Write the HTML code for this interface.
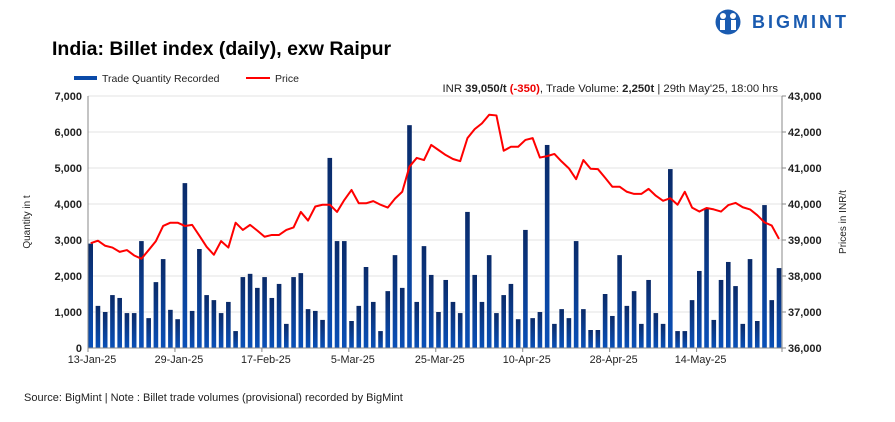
<!DOCTYPE html>
<html><head><meta charset="utf-8"><style>
body{margin:0;background:#fff;width:895px;height:417px;overflow:hidden;font-family:"Liberation Sans",Arial,sans-serif;}
</style></head><body>
<svg id="chart" width="895" height="417" xmlns="http://www.w3.org/2000/svg" font-family="Liberation Sans, Arial, sans-serif">
<defs><linearGradient id="bg" x1="0" y1="0" x2="0" y2="1"><stop offset="0" stop-color="#0a2a68"/><stop offset="1" stop-color="#0a50b8"/></linearGradient></defs>
<g>
<circle cx="728" cy="22" r="12.5" fill="#1a5bb0"/>
<circle cx="723" cy="16" r="3" fill="#fff"/><circle cx="733" cy="16" r="3" fill="#fff"/>
<rect x="720" y="20" width="5" height="10" fill="#fff"/><rect x="731" y="20" width="5" height="10" fill="#fff"/>
<text x="752" y="28" font-size="18" font-weight="bold" fill="#1a5bb0" letter-spacing="3">BIGMINT</text>
</g>
<text x="52" y="55" font-size="19.5" font-weight="bold" fill="#000">India: Billet index (daily), exw Raipur</text>
<g>
<rect x="74" y="76" width="23" height="4" fill="#0a4aa8"/>
<text x="102" y="82" font-size="10.5" fill="#222">Trade Quantity Recorded</text>
<line x1="246" y1="78" x2="270" y2="78" stroke="#f00" stroke-width="2"/>
<text x="275" y="82" font-size="10.5" fill="#222">Price</text>
</g>
<text x="778" y="92" font-size="11.3" text-anchor="end" fill="#222">INR <tspan font-weight="bold">39,050/t</tspan> <tspan fill="#e00" font-weight="bold">(-350)</tspan>, Trade Volume: <tspan font-weight="bold">2,250t</tspan>  | 29th May'25, 18:00 hrs</text>
<text transform="translate(30,222) rotate(-90)" font-size="10" text-anchor="middle" fill="#222">Quantity in t</text>
<text transform="translate(846,222) rotate(-90)" font-size="10" text-anchor="middle" fill="#222">Prices in INR/t</text>
<g id="grid"></g><g id="bars"></g><g id="line"></g><g id="axes"></g>
<text x="24" y="401" font-size="11" fill="#222">Source: BigMint | Note : Billet trade volumes (provisional) recorded by BigMint</text>
</svg>
<script>
const qty=[2900,1170,1000,1470,1390,970,970,2970,830,1830,2470,1060,800,4580,1030,2750,1470,1330,970,1280,470,1970,2060,1670,1970,1390,1780,670,1970,2080,1080,1030,780,
5280,2970,2970,750,1170,2250,1280,470,1580,2580,1670,6190,1280,2830,2030,1000,1890,1280,970,3780,2030,1280,2580,970,1470,1780,800,3280,830,1000,5640,
670,1080,830,2970,1080,500,500,1500,890,2580,1170,1580,670,1890,970,670,4970,470,470,1330,2140,3890,780,1890,2390,1720,670,2470,750,3970,1330,2220];
const price=[38910,38980,38840,38790,38670,38720,38570,38480,38720,38970,39390,39480,39480,39390,39420,39120,38810,38590,38970,38790,39480,39280,39420,39260,39090,39140,39140,39280,39350,39780,39540,39930,39980,
39980,39780,40110,40390,40020,40020,40080,39980,39900,40150,40340,41040,41280,41220,41640,41500,41360,41250,41190,41830,42080,42240,42480,42460,41480,41590,41590,41780,41830,41290,41330,
41390,41180,40990,40690,41220,40980,40970,40730,40480,40480,40340,40280,40280,40420,40230,40090,40160,39980,40340,39900,39790,39890,39850,39790,39970,40030,39910,39850,39690,39490,39400,39030];
const leftTicks=[0,1000,2000,3000,4000,5000,6000,7000];
const rightTicks=[36000,37000,38000,39000,40000,41000,42000,43000];
const xLabels=["13-Jan-25","29-Jan-25","17-Feb-25","5-Mar-25","25-Mar-25","10-Apr-25","28-Apr-25","14-May-25"];
const X0=88,X1=782,Y0=348,Y1=96,N=qty.length;
const step=(779-90.7)/(N-1);
const xs=i=>90.7+i*step;
const yl=v=>Y0-(v/7000)*(Y0-Y1);
const yr=v=>Y0-((v-36000)/7000)*(Y0-Y1);
const NS="http://www.w3.org/2000/svg";
function mk(t,a,p){const e=document.createElementNS(NS,t);for(const k in a)e.setAttribute(k,a[k]);p.appendChild(e);return e;}
const grid=document.getElementById('grid'),bars=document.getElementById('bars'),line=document.getElementById('line'),axes=document.getElementById('axes');
leftTicks.forEach((v,i)=>{
 const g=mk('line',{x1:X0,x2:X1,y1:yl(v),y2:yl(v),stroke:'#e3e3e3','stroke-width':1},grid);
 
 
 const t=mk('text',{x:X0-6,y:yl(v)+4,'font-size':11,'font-weight':'bold','text-anchor':'end',fill:'#222'},axes);t.textContent=v.toLocaleString('en-US');
 
 
 const r=rightTicks[i];
 const t2=mk('text',{x:X1+6,y:yr(r)+4,'font-size':11,'font-weight':'bold',fill:'#222'},axes);t2.textContent=r.toLocaleString('en-US');
 
 
 mk('line',{x1:X1,x2:X1+4,y1:yr(r),y2:yr(r),stroke:'#888'},axes);
});
qty.forEach((v,i)=>{
 const b=mk('rect',{x:xs(i)-2.3,y:yl(v),width:4.6,height:Y0-yl(v),fill:'url(#bg)'},bars);
 
 
});
const pl=mk('polyline',{points:price.map((v,i)=>xs(i)+','+yr(v)).join(' '),fill:'none',stroke:'#f00','stroke-width':2,'stroke-linejoin':'round'},line);


mk('line',{x1:X0,x2:X0,y1:Y1,y2:Y0,stroke:'#888'},axes);
mk('line',{x1:X1,x2:X1,y1:Y1,y2:Y0,stroke:'#888'},axes);
mk('line',{x1:X0,x2:X1,y1:Y0,y2:Y0,stroke:'#888'},axes);
xLabels.forEach((l,k)=>{
 const tx=X0+k*12*step;
 mk('line',{x1:tx,x2:tx,y1:Y0,y2:Y0+4,stroke:'#888'},axes);
 const t=mk('text',{x:tx+4,y:363,'font-size':10.8,'text-anchor':'middle',fill:'#222'},axes);t.textContent=l;
 
 
});
mk('line',{x1:X1,x2:X1,y1:Y0,y2:Y0+4,stroke:'#888'},axes);
</script>
</body></html>
